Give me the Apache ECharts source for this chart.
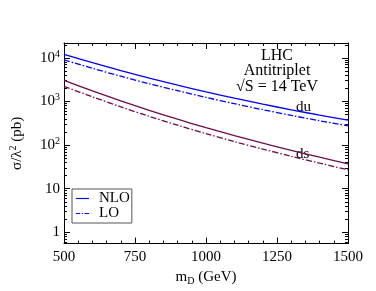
<!DOCTYPE html>
<html>
<head>
<meta charset="utf-8">
<script src="https://cdn.jsdelivr.net/npm/echarts@6/dist/echarts.min.js"></script>
<style>html,body{margin:0;padding:0;background:#fff;}#c{width:376px;height:291px;}</style>
</head>
<body>
<div id="c"></div>
<script>
// Data
const massGeV = [500, 600, 700, 800, 900, 1000, 1100, 1200, 1300, 1400, 1500];
const duNLO = [12130, 7760, 5110, 3440, 2370, 1667, 1194, 871, 646, 486, 372];
const duLO  = [9040, 5780, 3810, 2560, 1770, 1242, 890, 649, 481, 362, 277];
const dsNLO = [3055, 1750, 1033, 627, 392, 251, 165, 111, 75.9, 52.7, 37.2];
const dsLO  = [2230, 1278, 754, 458, 286, 183, 120, 81, 55.4, 38.5, 27.2];
const xTicks = [500, 750, 1000, 1250, 1500];
const yMajor = [1, 10, 100, 1000, 10000];
const yMinor = [0.6, 0.7, 0.8, 0.9];
[1, 10, 100, 1000, 10000].forEach(d => { for (let k = 2; k <= 9; k++) { if (d * k <= 22000) yMinor.push(d * k); } });

const blue = '#0000ff';
const maroon = '#6e0b4e';
const serif = 'Liberation Serif';
const dashDot = [6, 2, 1.5, 2];

function pairs(ys) { return massGeV.map((x, i) => [x, ys[i]]); }

const chart = echarts.init(document.getElementById('c'), null, {renderer: 'canvas'});
const yBase = {type: 'log', min: 0.55, max: 22000, logBase: 10, splitLine: {show: false}};
const solidIcon = 'path://M0,0H16V1.4H0Z';
const dashIcon = 'path://M0,0H5V0.65H7V0H8.5V0.65H10.5V0H16V1.4H10.5V0.75H8.5V1.4H7V0.75H5V1.4H0Z';
chart.setOption({
  animation: false,
  backgroundColor: '#ffffff',
  grid: {left: 58, top: 43, right: 28, bottom: 45},
  legend: {
    data: [
      {name: 'NLO', icon: solidIcon, itemStyle: {color: blue}},
      {name: 'LO', icon: dashIcon, itemStyle: {color: blue}, lineStyle: {type: 'solid'}}
    ],
    orient: 'vertical', left: 72, top: 189,
    borderColor: '#555', borderWidth: 1, padding: [2, 2, 2, 4], itemGap: 0,
    itemWidth: 13, itemHeight: 1.6,
    textStyle: {fontFamily: serif, fontSize: 15, color: '#000', lineHeight: 14, padding: [0, 0, 0, 5]}
  },
  xAxis: [
    {type: 'value', min: 500, max: 1500, interval: 250, position: 'bottom',
     axisLine: {lineStyle: {color: '#000', width: 1}},
     axisTick: {inside: true, length: 6, lineStyle: {color: '#000'}},
     minorTick: {show: true, splitNumber: 5, length: 3, lineStyle: {color: '#000'}},
     axisLabel: {fontFamily: serif, fontSize: 15, color: '#000', margin: 6, customValues: xTicks, formatter: v => String(v)},
     splitLine: {show: false},
     name: '{a|m}{s|D}{a| (GeV)}', nameLocation: 'middle', nameGap: 22,
     nameTextStyle: {rich: {a: {fontFamily: serif, fontSize: 15, color: '#000'}, s: {fontFamily: serif, fontSize: 10, color: '#000', verticalAlign: 'bottom', padding: [8, 0, 0, 0]}}}
    },
    {type: 'value', min: 500, max: 1500, interval: 250, position: 'top',
     axisLine: {lineStyle: {color: '#000', width: 1}},
     axisTick: {inside: true, length: 6, lineStyle: {color: '#000'}},
     minorTick: {show: true, splitNumber: 5, length: 3, lineStyle: {color: '#000'}},
     axisLabel: {show: false}, splitLine: {show: false}}
  ],
  yAxis: [
    Object.assign({}, yBase, {position: 'left',
      axisLine: {show: true, lineStyle: {color: '#000', width: 1}},
      axisTick: {inside: true, length: 6, customValues: yMajor, lineStyle: {color: '#000'}},
      axisLabel: {customValues: yMajor, margin: 4, formatter: function (v) {
        const e = Math.round(Math.log10(v));
        if (e === 0) return '{b|1}';
        if (e === 1) return '{b|10}';
        return '{b|10}{p|' + e + '}';
      }, rich: {b: {fontFamily: serif, fontSize: 15, color: '#000'}, p: {fontFamily: serif, fontSize: 10, color: '#000', verticalAlign: 'top', padding: [0, 0, 8, 0]}}},
      name: '{a|σ/λ}{p|2}{a| (pb)}', nameLocation: 'middle', nameGap: 38, nameRotate: 90,
      nameTextStyle: {rich: {a: {fontFamily: serif, fontSize: 15, color: '#000'}, p: {fontFamily: serif, fontSize: 10, color: '#000', verticalAlign: 'top', padding: [0, 0, 8, 0]}}}
    }),
    Object.assign({}, yBase, {position: 'left',
      axisLine: {show: false},
      axisTick: {inside: true, length: 3, customValues: yMinor, lineStyle: {color: '#000'}},
      axisLabel: {show: false}}),
    Object.assign({}, yBase, {position: 'right',
      axisLine: {show: true, lineStyle: {color: '#000', width: 1}},
      axisTick: {inside: true, length: 6, customValues: yMajor, lineStyle: {color: '#000'}},
      axisLabel: {show: false}}),
    Object.assign({}, yBase, {position: 'right',
      axisLine: {show: false},
      axisTick: {inside: true, length: 3, customValues: yMinor, lineStyle: {color: '#000'}},
      axisLabel: {show: false}})
  ],
  series: [
    {name: 'NLO', type: 'line', data: pairs(duNLO), smooth: 0.3, showSymbol: false, symbol: 'none', color: blue, itemStyle: {color: blue}, lineStyle: {color: blue, width: 1.3, type: 'solid'}},
    {name: 'LO', type: 'line', data: pairs(duLO), smooth: 0.3, showSymbol: false, symbol: 'none', color: blue, itemStyle: {color: blue}, lineStyle: {color: blue, width: 1.3, type: dashDot}},
    {name: 'NLO (ds)', type: 'line', data: pairs(dsNLO), smooth: 0.3, showSymbol: false, symbol: 'none', color: maroon, itemStyle: {color: maroon}, lineStyle: {color: maroon, width: 1.3, type: 'solid'}},
    {name: 'LO (ds)', type: 'line', data: pairs(dsLO), smooth: 0.3, showSymbol: false, symbol: 'none', color: maroon, itemStyle: {color: maroon}, lineStyle: {color: maroon, width: 1.3, type: dashDot}}
  ],
  graphic: [
    {type: 'text', x: 277, y: 48, style: {text: 'LHC\nAntitriplet\n√S = 14 TeV', font: '16px "Liberation Serif"', fill: '#000', align: 'center', lineHeight: 15.5}},
    {type: 'text', x: 296, y: 100, style: {text: 'du', font: '15px "Liberation Serif"', fill: '#000'}},
    {type: 'text', x: 296, y: 147, style: {text: 'ds', font: '15px "Liberation Serif"', fill: '#000'}}
  ]
});
</script>
</body>
</html>
